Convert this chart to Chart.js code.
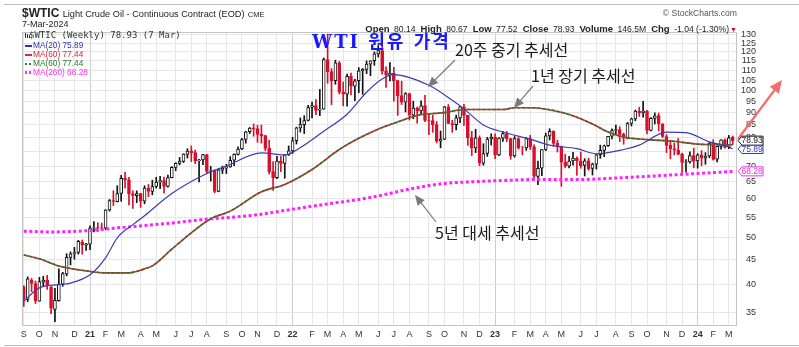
<!DOCTYPE html>
<html>
<head>
<meta charset="utf-8">
<script src="https://cdn.jsdelivr.net/npm/chart.js@4.4.1/dist/chart.umd.min.js"></script>
<style>
  body { margin: 0; background: #fff; }
  #wrap { position: relative; width: 799px; height: 347px; overflow: hidden; font-family: "Liberation Sans", Arial, sans-serif; color: #222; }
  #wrap canvas { position: absolute; left: 0; top: 0; }
  .t { position: absolute; white-space: nowrap; line-height: 1; }
  .lg { position: absolute; left: 25px; white-space: nowrap; font-size: 8.3px; line-height: 9px; }
  .mk { display: inline-block; width: 7px; height: 2px; vertical-align: middle; margin-right: 1px; }
  .kr { position: absolute; white-space: nowrap; line-height: 1; font-family: "Noto Sans CJK KR", sans-serif; font-size: 16px; color: #1a1a1a; }
  .hd b { font-size: 9.5px; }
  .hd span { font-size: 8.6px; margin-right: 5px; }
</style>
</head>
<body>
<div id="wrap">
  <canvas id="wtic" width="799" height="347"></canvas>

  <div class="t" style="left:22px;top:7px;font-size:12px"><b>$WTIC</b> <span style="font-size:9.2px">Light Crude Oil - Continuous Contract (EOD)</span> <span style="font-size:7.5px">CME</span></div>
  <div class="t" style="left:22px;top:20px;font-size:9px">7-Mar-2024</div>
  <div class="t" style="right:62px;top:9px;font-size:8.6px;color:#555">&copy; StockCharts.com</div>
  <div class="t hd" style="right:62px;top:19px"><b>Open</b> <span>80.14</span><b>High</b> <span>80.67</span><b>Low</b> <span>77.52</span><b>Close</b> <span>78.93</span><b>Volume</b> <span>146.5M</span><b>Chg</b> <span style="margin-right:1px">-1.04 (-1.30%)</span><span style="color:#c4102a;font-size:7px;margin:0">&#9660;</span></div>

  <div class="t" style="left:29px;top:31px;font-family:'DejaVu Sans Mono',monospace;font-size:9px;color:#333">$WTIC (Weekly) 78.93 (7 Mar)</div>
  <div class="lg" style="top:41px;color:#3434a8"><span class="mk" style="background:#3434a8"></span>MA(20) 75.89</div>
  <div class="lg" style="top:50px;color:#d42a3a"><span class="mk" style="background:#d42a3a"></span>MA(60) 77.44</div>
  <div class="lg" style="top:59px;color:#2e7d2e"><span class="mk" style="background:repeating-linear-gradient(90deg,#2e7d2e 0 2px,transparent 2px 4px)"></span>MA(60) 77.44</div>
  <div class="lg" style="top:68px;color:#ff33ff"><span class="mk" style="height:3px;background:repeating-linear-gradient(90deg,#ff33ff 0 2px,transparent 2px 4px)"></span>MA(260) 68.28</div>

  <div class="t" style="left:312px;top:33px;font-size:18px;font-weight:bold;color:#1a1aff;font-family:'DejaVu Serif','Noto Sans CJK KR',serif;letter-spacing:2px">WTI 원유 가격</div>
  <div class="kr" style="left:455px;top:41px">20주 중기 추세선</div>
  <div class="kr" style="left:531px;top:67px">1년 장기 추세선</div>
  <div class="kr" style="left:435px;top:224px">5년 대세 추세선</div>
</div>

<script>
// weekly bars from 11 Sep 2020 to 7 Mar 2024
const weekOpen = [
  39.6, 37.3, 40.9, 40.2, 37.0, 40.5, 40.9, 39.5, 35.6, 37.1, 40.1, 42.1, 45.5, 46.3, 46.6, 48.9, 48.2,
  48.4, 52.2, 52.4, 52.3, 52.2, 56.9, 59.5, 59.2, 61.5, 66.1, 65.6, 61.4, 60.9, 61.5, 59.3, 63.1, 62.1, 63.6, 64.9, 65.4,
  63.6, 66.3, 69.6, 70.9, 71.6, 74.0, 75.2, 74.6, 71.8, 72.1, 73.9, 68.3, 68.4, 62.1, 68.7, 69.3, 69.7, 72.0, 74.0, 75.9,
  79.4, 82.3, 83.8, 83.6, 81.3, 80.8, 76.1, 68.2, 66.3, 71.7, 70.9, 73.8,
  75.2, 78.9, 83.8, 85.1, 86.8, 92.3, 93.1, 91.1, 91.6, 115.7, 109.3, 104.7, 113.9, 99.3, 98.3, 106.9, 102.1, 104.7,
  109.8, 110.5, 113.2, 115.1, 118.9, 120.7, 109.6, 107.6, 108.4, 104.8, 97.6, 94.7, 98.6, 89.0, 92.1, 90.8, 93.1, 86.9,
  86.8, 85.1, 78.7, 79.5, 92.6, 85.6, 85.1, 87.9, 92.6, 89.0, 80.1, 76.3, 80.0, 71.0, 74.3, 79.6,
  80.3, 73.8, 79.9, 81.6, 79.7, 73.4, 79.7, 76.3, 76.3, 79.7, 76.7, 66.7, 69.3, 75.7, 80.7, 82.5, 77.9, 76.8, 71.3, 70.0,
  71.7, 72.7, 71.7, 70.2, 71.8, 69.2, 70.6, 73.9, 75.4, 77.1, 80.6, 82.8, 83.2, 81.3, 79.8, 85.6, 87.5, 90.8, 90.0, 90.8,
  82.8, 87.7, 88.8, 85.5, 80.5, 77.2, 75.9, 75.5, 74.1, 71.2, 71.4, 73.6,
  71.7, 73.8, 72.7, 73.4, 78.0, 72.3, 76.8, 79.2, 76.5, 80.14
];
const weekHigh = [
  39.8, 41.5, 41.2, 40.7, 41.4, 41.6, 41.8, 39.8, 39.3, 43.1, 42.4, 46.3, 46.7, 47.7, 49.3, 49.4, 48.6,
  52.8, 53.9, 53.6, 53.5, 57.0, 59.8, 62.3, 63.8, 67.0, 68.0, 66.4, 62.3, 62.3, 61.6, 63.8, 64.2, 65.5, 66.4, 66.7, 66.5,
  67.1, 69.8, 71.1, 72.9, 74.2, 76.0, 77.0, 75.5, 72.3, 74.0, 74.0, 69.9, 68.8, 69.1, 70.0, 70.6, 73.2, 74.2, 76.7, 79.8,
  82.5, 84.0, 85.4, 84.9, 85.0, 81.0, 79.1, 71.5, 73.3, 73.3, 73.9, 77.0,
  80.2, 84.1, 87.9, 88.8, 93.2, 94.7, 95.8, 100.5, 116.6, 130.5, 110.9, 115.4, 114.7, 104.1, 108.0, 108.6, 105.4, 111.4,
  111.0, 115.0, 115.1, 120.0, 123.7, 123.2, 111.8, 114.1, 111.5, 105.0, 104.5, 99.0, 98.8, 95.1, 92.5, 95.2, 97.7, 89.4,
  89.0, 86.4, 82.6, 92.8, 93.6, 86.9, 89.1, 92.8, 93.7, 89.0, 82.5, 83.3, 80.7, 77.8, 80.2, 81.5,
  81.5, 80.1, 82.4, 82.4, 79.8, 80.5, 80.1, 76.9, 80.1, 80.9, 77.4, 71.7, 75.7, 81.8, 83.5, 82.7, 79.1, 76.9, 74.0, 73.3,
  74.7, 73.1, 74.8, 72.5, 72.7, 71.0, 74.0, 77.3, 77.3, 80.6, 83.5, 84.9, 84.3, 81.8, 86.0, 87.8, 91.2, 92.4, 95.0, 91.1,
  88.0, 90.0, 89.9, 85.5, 81.2, 79.1, 78.0, 79.7, 74.4, 72.2, 74.9, 76.2,
  74.2, 75.3, 74.6, 78.2, 79.3, 76.9, 79.3, 79.6, 80.9, 80.67
];
const weekLow = [
  36.1, 36.9, 38.7, 36.6, 37.0, 39.7, 39.1, 34.9, 33.6, 37.0, 39.7, 41.7, 43.9, 45.1, 46.2, 46.2, 47.0,
  47.2, 51.3, 51.4, 51.6, 51.9, 56.6, 58.1, 59.1, 59.3, 63.1, 58.3, 57.3, 58.9, 57.6, 58.6, 60.6, 61.1, 63.1, 62.9, 61.6,
  63.4, 66.2, 68.5, 70.4, 71.2, 72.7, 71.5, 70.8, 65.0, 70.5, 67.6, 65.2, 61.7, 62.0, 67.6, 67.6, 69.6, 70.1, 73.7, 75.6,
  78.0, 81.6, 80.6, 78.3, 78.0, 75.3, 67.4, 62.4, 66.0, 68.2, 66.1, 73.6,
  74.3, 77.7, 82.2, 81.6, 86.6, 87.9, 89.2, 88.8, 91.5, 103.5, 93.5, 103.0, 98.4, 93.0, 92.9, 97.9, 95.3, 99.0,
  98.2, 108.3, 107.2, 112.6, 117.1, 108.0, 101.5, 104.6, 95.1, 88.9, 93.6, 90.4, 87.0, 87.5, 85.7, 89.3, 86.3, 81.2,
  82.1, 78.1, 76.3, 79.3, 85.5, 82.1, 83.0, 85.9, 84.8, 77.2, 73.6, 74.6, 70.1, 70.3, 73.3, 77.3,
  72.5, 73.5, 78.6, 78.6, 72.3, 73.0, 75.8, 73.8, 75.4, 75.7, 65.7, 64.1, 66.9, 75.3, 79.2, 76.9, 74.8, 63.6, 69.4, 69.4,
  70.3, 67.0, 69.3, 66.8, 68.6, 67.1, 69.0, 72.6, 73.2, 76.8, 79.6, 81.3, 78.6, 77.6, 79.6, 84.6, 86.7, 88.5, 88.2, 81.5,
  82.6, 85.4, 82.6, 80.1, 74.6, 72.4, 73.8, 73.8, 67.7, 68.0, 71.0, 69.4,
  69.3, 70.1, 70.6, 72.8, 72.0, 71.4, 75.8, 76.2, 76.0, 77.52
];
const weekClose = [
  37.33, 41.11, 40.25, 37.05, 40.60, 40.88, 39.85, 35.79, 37.14, 40.13, 42.15, 45.53, 46.26, 46.57, 49.10, 48.23, 48.52,
  52.24, 52.36, 52.27, 52.20, 56.85, 59.47, 59.24, 61.50, 66.09, 65.61, 61.42, 60.97, 61.45, 59.32, 63.13, 62.14, 63.58,
  64.90, 65.37, 63.58, 66.32, 69.62, 70.91, 71.64, 74.05, 75.16, 74.56, 71.81, 72.07, 73.95, 68.28, 68.44, 62.14, 68.74,
  69.29, 69.72, 71.97, 73.98, 75.88, 79.35, 82.28, 83.76, 83.57, 81.27, 80.79, 76.10, 68.15, 66.26, 71.67, 70.86, 73.79, 75.21,
  78.90, 83.82, 85.14, 86.82, 92.31, 93.10, 91.07, 91.59, 115.68, 109.33, 104.70, 113.90, 99.27, 98.26, 106.95, 102.07,
  104.69, 109.77, 110.49, 113.23, 115.07, 118.87, 120.67, 109.56, 107.62, 108.43, 104.79, 97.59, 94.70, 98.62, 89.01,
  92.09, 90.77, 93.06, 86.87, 86.79, 85.11, 78.74, 79.49, 92.64, 85.61, 85.05, 87.90, 92.61, 88.96, 80.08, 76.28, 79.98,
  71.02, 74.29, 79.56, 80.26,
  73.77, 79.86, 81.64, 79.68, 73.39, 79.72, 76.34, 76.32, 79.68, 76.68, 66.74, 69.26, 75.67, 80.70, 82.52, 77.87, 76.78,
  71.34, 70.04, 71.69, 72.67, 71.74, 70.17, 71.78, 69.16, 70.64, 73.86, 75.42, 77.07, 80.58, 82.82, 83.19, 81.25, 79.83,
  85.55, 87.51, 90.77, 90.03, 90.79, 82.79, 87.69, 88.75, 85.54, 80.51, 77.17, 75.89, 75.54, 74.07, 71.23, 71.43, 73.56, 71.65,
  73.81, 72.68, 73.41, 78.01, 72.28, 76.84, 79.19, 76.49, 79.97, 78.93
];

// moving averages, sampled at the given week numbers
const ma20Weeks = [0, 4, 9, 12, 17, 21, 24, 28, 31, 38, 47, 52, 61, 67, 70, 77, 83, 88, 92, 95, 104, 110, 113, 118, 123,
  130, 135, 142, 147, 154, 158, 165, 170, 176, 181, 182];
const ma20 = [37.0, 39.4, 40.0, 40.3, 41.9, 45.4, 49.9, 53.1, 55.4, 61.5, 67.6, 70.0, 74.5, 73.8, 75.5, 82.5, 89.4, 99.2,
  105.6, 107.8, 102.5, 95.5, 91.7, 85.0, 82.2, 79.5, 77.3, 76.0, 74.2, 75.7, 77.3, 82.2, 82.0, 78.5, 76.7, 75.89];

const ma60Weeks = [0, 4, 9, 16, 21, 27, 31, 33, 38, 43, 48, 53, 61, 67, 74, 81, 86, 92, 96, 101, 108, 113, 123, 126, 130,
  139, 146, 150, 154, 160, 166, 175, 182];
const ma60 = [46.0, 45.2, 43.7, 42.7, 42.3, 42.3, 43.1, 43.7, 47.3, 51.1, 54.6, 56.6, 62.0, 64.2, 68.9, 75.7, 79.8, 84.0,
  86.2, 88.9, 90.1, 91.4, 91.4, 92.2, 92.2, 89.8, 85.4, 82.2, 80.3, 79.3, 78.8, 77.5, 77.44];

const ma260Weeks = [0, 7, 16, 24, 31, 38, 47, 55, 61, 69, 77, 86, 91, 99, 108, 117, 123, 132, 142, 154, 163, 173, 181, 182];
const ma260 = [51.5, 51.3, 51.6, 52.3, 52.9, 53.5, 54.5, 55.1, 55.8, 57.1, 58.4, 59.8, 60.8, 62.8, 64.5, 65.1, 65.4, 65.7,
  65.7, 66.3, 66.9, 67.6, 68.2, 68.28];

// axis ticks
const priceTicks = [35, 40, 45, 50, 55, 60, 65, 70, 75, 80, 85, 90, 95, 100, 105, 110, 115, 120, 125, 130];
const monthWeeks = [0, 4, 8, 13, 17, 21, 25, 30, 34, 39, 43, 47, 52, 56, 60, 65, 69, 74, 78, 82, 86, 91, 95, 99, 104, 108,
  113, 117, 121, 126, 130, 134, 138, 143, 147, 152, 156, 160, 165, 169, 173, 177, 181];
const monthLabels = ['S', 'O', 'N', 'D', '21', 'F', 'M', 'A', 'M', 'J', 'J', 'A', 'S', 'O', 'N', 'D',
  '22', 'F', 'M', 'A', 'M', 'J', 'J', 'A', 'S', 'O', 'N', 'D',
  '23', 'F', 'M', 'A', 'M', 'J', 'J', 'A', 'S', 'O', 'N', 'D',
  '24', 'F', 'M'];

const RED = '#d8102c';
const INK = '#111111';

// black when the week closed up, red when it closed down; hollow when close > open
const candleColor = weekClose.map((c, i) => c >= (i ? weekClose[i - 1] : weekOpen[i]) ? INK : RED);
const candleFill = weekClose.map((c, i) => c > weekOpen[i] ? '#ffffff' : candleColor[i]);

const toPoints = (xs, ys) => xs.map((x, i) => ({ x: x, y: ys[i] }));

// frame, arrows, price tags and the small legend icon
const extras = {
  id: 'extras',
  afterDraw(chart) {
    const ctx = chart.ctx;
    const area = chart.chartArea;
    const y = chart.scales.y;

    ctx.save();
    ctx.strokeStyle = '#c4c4c4';
    ctx.lineWidth = 1;
    ctx.strokeRect(area.left + 0.5, area.top + 0.5, area.right - area.left - 1, area.bottom - area.top);

    ctx.strokeStyle = '#bdbdbd';
    ctx.beginPath();
    ctx.moveTo(4, 4.5); ctx.lineTo(799, 4.5);
    ctx.moveTo(4, 345.5); ctx.lineTo(799, 345.5);
    ctx.stroke();

    // legend icon
    ctx.fillStyle = '#333';
    ctx.fillRect(25, 33, 1, 5);
    ctx.fillRect(27, 34, 1, 4);
    ctx.fillRect(29, 35, 1, 3);

    function arrow(x1, y1, x2, y2, color, width, head) {
      const a = Math.atan2(y2 - y1, x2 - x1);
      ctx.strokeStyle = color;
      ctx.fillStyle = color;
      ctx.lineWidth = width;
      ctx.beginPath();
      ctx.moveTo(x1, y1);
      ctx.lineTo(x2 - Math.cos(a) * head * 0.8, y2 - Math.sin(a) * head * 0.8);
      ctx.stroke();
      ctx.beginPath();
      ctx.moveTo(x2, y2);
      ctx.lineTo(x2 - head * Math.cos(a - 0.42), y2 - head * Math.sin(a - 0.42));
      ctx.lineTo(x2 - head * Math.cos(a + 0.42), y2 - head * Math.sin(a + 0.42));
      ctx.closePath();
      ctx.fill();
    }
    arrow(455, 60, 428, 87, '#7a7a7a', 1.2, 11);
    arrow(533, 86, 514, 108, '#7a7a7a', 1.2, 11);
    arrow(436, 222, 415, 195, '#7a7a7a', 1.2, 11);
    arrow(738, 139, 782, 80, '#f26d6d', 2.2, 14);

    // value tags on the price axis
    function tag(value, color) {
      const py = y.getPixelForValue(value);
      ctx.beginPath();
      ctx.moveTo(738, py);
      ctx.lineTo(742, py - 4.5);
      ctx.lineTo(763, py - 4.5);
      ctx.lineTo(763, py + 4.5);
      ctx.lineTo(742, py + 4.5);
      ctx.closePath();
      ctx.fillStyle = '#fff';
      ctx.fill();
      ctx.strokeStyle = color;
      ctx.lineWidth = 1;
      ctx.stroke();
      ctx.fillStyle = color;
      ctx.font = '8.5px "Liberation Sans", Arial';
      ctx.textAlign = 'left';
      ctx.textBaseline = 'middle';
      ctx.fillText(value.toFixed(2), 741.5, py + 0.5);
    }
    tag(ma260[ma260.length - 1], '#ee33ee');
    tag(ma20[ma20.length - 1], '#3434c0');
    tag(weekClose[weekClose.length - 1], '#111');
    ctx.restore();
  }
};

const lineBase = { type: 'line', pointRadius: 0, fill: false, cubicInterpolationMode: 'monotone' };

new Chart(document.getElementById('wtic'), {
  type: 'bar',
  data: {
    datasets: [
      {
        label: 'wick',
        data: weekClose.map((c, i) => ({ x: i, y: [weekLow[i], weekHigh[i]] })),
        backgroundColor: candleColor,
        barThickness: 1,
        grouped: false,
        order: 4
      },
      {
        label: 'body',
        data: weekClose.map((c, i) => ({ x: i, y: [weekOpen[i], c] })),
        backgroundColor: candleFill,
        borderColor: candleColor,
        borderWidth: 1,
        borderSkipped: false,
        barThickness: 3,
        grouped: false,
        order: 3
      },
      Object.assign({}, lineBase, {
        label: 'MA(260)', data: toPoints(ma260Weeks, ma260),
        borderColor: '#ff22ff', borderWidth: 3, borderDash: [3, 2.5], order: 2
      }),
      Object.assign({}, lineBase, {
        label: 'MA(60)', data: toPoints(ma60Weeks, ma60),
        borderColor: '#d42a3a', borderWidth: 1.6, order: 2
      }),
      Object.assign({}, lineBase, {
        label: 'MA(60) dashed', data: toPoints(ma60Weeks, ma60),
        borderColor: '#2b7a2b', borderWidth: 1.6, borderDash: [3, 2], order: 1
      }),
      Object.assign({}, lineBase, {
        label: 'MA(20)', data: toPoints(ma20Weeks, ma20),
        borderColor: '#3c3cb0', borderWidth: 1.2, order: 0
      })
    ]
  },
  options: {
    responsive: false,
    animation: false,
    events: [],
    layout: { padding: { left: 22, top: 32, right: 43, bottom: 0 } },
    plugins: { legend: { display: false }, tooltip: { enabled: false } },
    scales: {
      x: {
        type: 'linear',
        min: -0.46,
        max: 183.1,
        offset: false,
        grid: {
          offset: false,
          drawTicks: false,
          color: (c) => (monthLabels[c.index] || '').length === 2 ? '#cdcdcd' : '#e6e6e6'
        },
        border: { display: false },
        afterBuildTicks: (scale) => { scale.ticks = monthWeeks.map((w) => ({ value: w })); },
        afterFit: (scale) => { scale.height = 22; },
        ticks: {
          autoSkip: false,
          maxRotation: 0,
          padding: 4,
          color: '#333',
          font: (c) => ({
            family: '"Liberation Sans", Arial',
            size: 9,
            weight: (monthLabels[c.index] || '').length === 2 ? 'bold' : 'normal'
          }),
          callback: (v, i) => monthLabels[i]
        }
      },
      y: {
        type: 'logarithmic',
        position: 'right',
        min: 33.07,
        max: 131.8,
        beginAtZero: false,
        grid: { drawTicks: false, color: '#e6e6e6' },
        border: { display: false },
        afterBuildTicks: (scale) => { scale.ticks = priceTicks.map((v) => ({ value: v })); },
        afterFit: (scale) => { scale.width = 19; },
        ticks: {
          crossAlign: 'far',
          padding: 3,
          color: '#333',
          font: { family: '"Liberation Sans", Arial', size: 9 },
          callback: (v) => String(v)
        }
      }
    }
  },
  plugins: [extras]
});
</script>
</body>
</html>
